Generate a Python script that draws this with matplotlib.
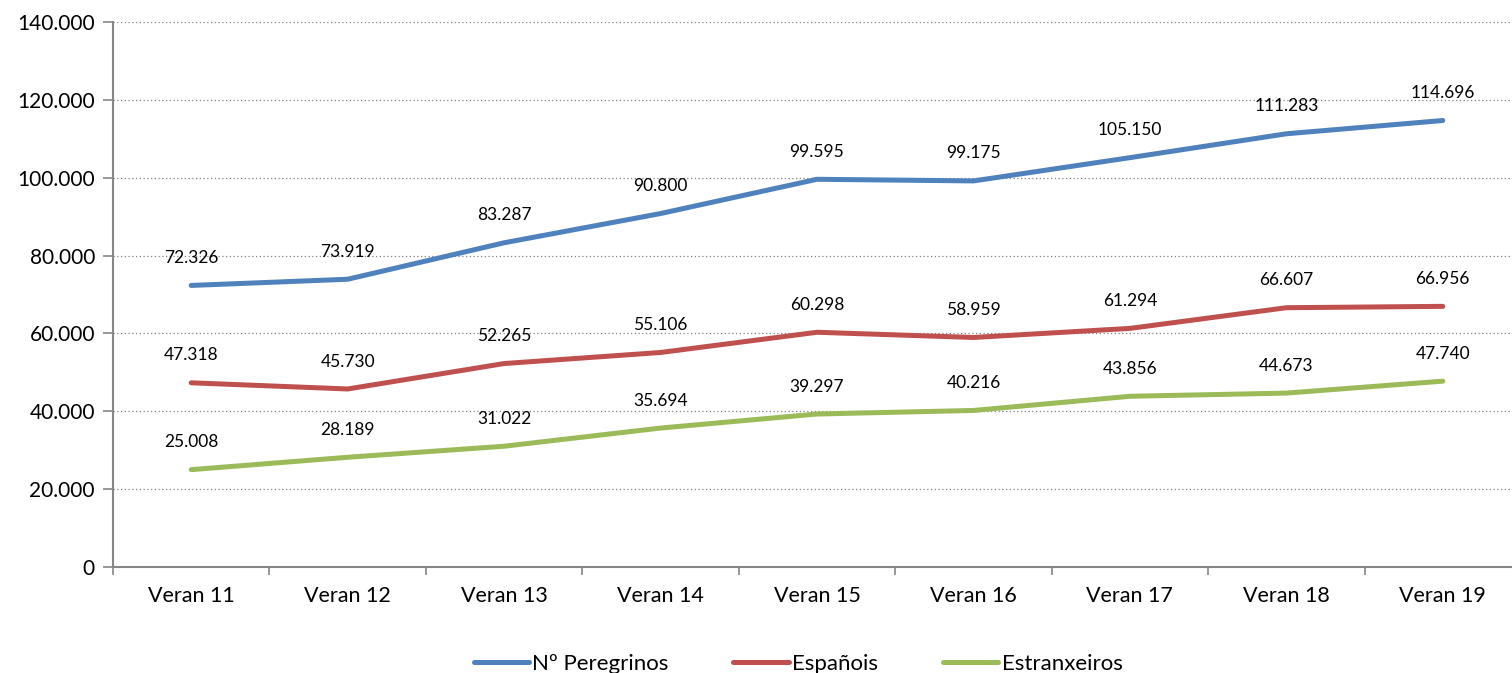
import matplotlib
matplotlib.use("Agg")
import matplotlib.pyplot as plt
import matplotlib.ticker as mticker
import numpy as np

plt.rcParams["font.family"] = ["Lato", "DejaVu Sans"]

# ── Data ─────────────────────────────────────────────────────────────────────
categories = ["Veran 11", "Veran 12", "Veran 13", "Veran 14", "Veran 15",
              "Veran 16", "Veran 17", "Veran 18", "Veran 19"]
peregrinos = [72326, 73919, 83287, 90800, 99595, 99175, 105150, 111283, 114696]
espanois = [47318, 45730, 52265, 55106, 60298, 58959, 61294, 66607, 66956]
estranxeiros = [25008, 28189, 31022, 35694, 39297, 40216, 43856, 44673, 47740]

series = [
    ("Nº Peregrinos", peregrinos, "#4F81BD"),
    ("Españois", espanois, "#C0504D"),
    ("Estranxeiros", estranxeiros, "#9BBB59"),
]


def fmt_thousands(v):
    return f"{int(v):,}".replace(",", ".")


# ── Figure ───────────────────────────────────────────────────────────────────
fig = plt.figure(figsize=(15.12, 6.73), dpi=100)
ax = fig.add_axes([113 / 1512, (673 - 567) / 673, 1408 / 1512, 545 / 673])

x = np.arange(len(categories))
for name, vals, col in series:
    ax.plot(x, vals, color=col, lw=3.6, label=name, solid_capstyle="round")
    for xi, v in zip(x, vals):
        ax.annotate(fmt_thousands(v), (xi, v), xytext=(0, 14),
                    textcoords="offset points", ha="center", va="bottom",
                    fontsize=12.5, color="#000000")

ax.set_xlim(-0.5, len(categories) - 0.5)
ax.set_ylim(0, 140000)
ax.yaxis.set_major_locator(mticker.MultipleLocator(20000))
ax.yaxis.set_major_formatter(mticker.FuncFormatter(lambda v, p: fmt_thousands(v)))

ax.set_xticks(x)
ax.set_xticklabels(categories)
ax.set_xticks(np.arange(-0.5, len(categories), 1.0), minor=True)
ax.tick_params(axis="x", which="major", length=0, pad=14, labelsize=15.5)
ax.tick_params(axis="x", which="minor", length=6, width=1.2, color="#868686",
               direction="out")
ax.tick_params(axis="y", which="major", length=7, width=1.2, color="#868686",
               labelsize=15, pad=6)

ax.grid(axis="y", linestyle=(0, (1, 2)), color="#808080", lw=0.9)
ax.set_axisbelow(True)
for s in ["top", "right"]:
    ax.spines[s].set_visible(False)
for s in ["left", "bottom"]:
    ax.spines[s].set_color("#868686")
    ax.spines[s].set_linewidth(1.5)

fig.legend(loc="center", bbox_to_anchor=(798 / 1512, 1 - 664 / 673), ncol=3,
           frameon=False, fontsize=16, handlelength=2.5, handletextpad=0.15,
           columnspacing=2.9)

fig.savefig("out.png", dpi=100)
